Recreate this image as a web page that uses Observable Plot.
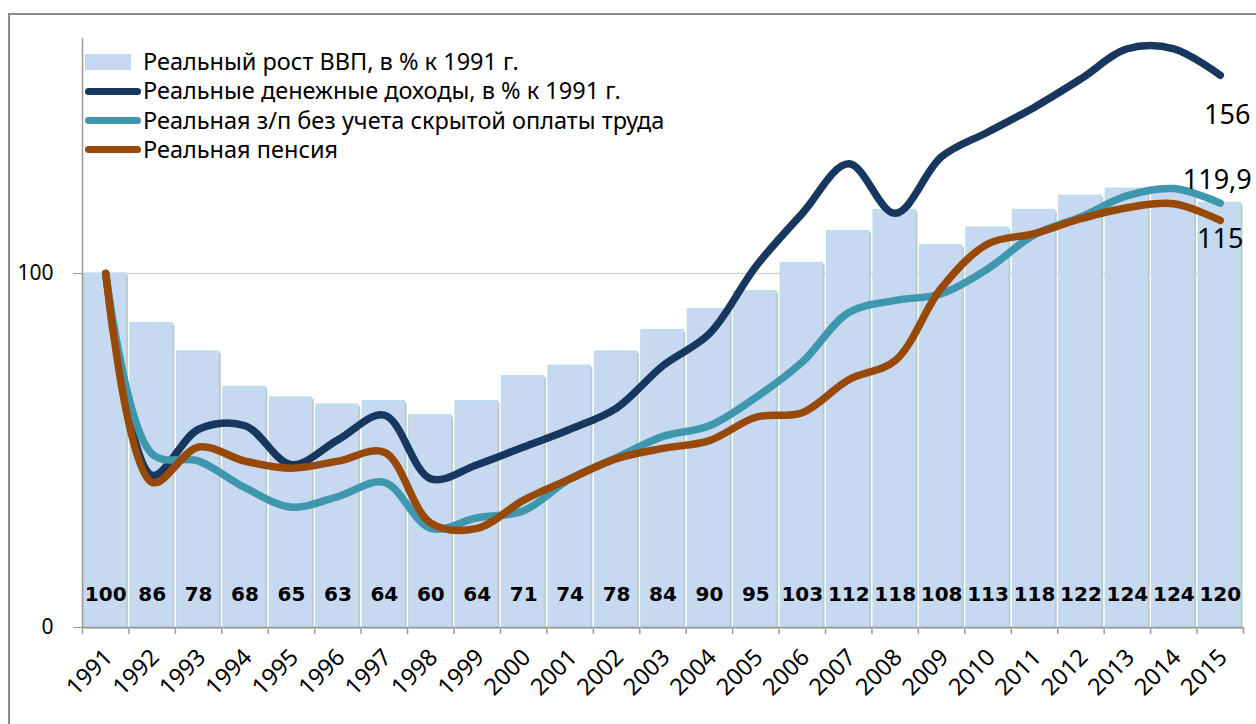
<!DOCTYPE html>
<html>
<head>
<meta charset="utf-8">
<script src="https://cdn.jsdelivr.net/npm/d3@7"></script>
<script src="https://cdn.jsdelivr.net/npm/@observablehq/plot@0.6"></script>
<style>
  body { margin: 0; background: #fff; width: 1256px; height: 724px; overflow: hidden; position: relative; font-family: "Noto Sans", sans-serif; }
  #frame { position: absolute; left: 8px; top: 13px; width: 1400px; height: 900px; border-left: 2px solid #8c8c8c; border-top: 2px solid #8c8c8c; }
  #chart { position: absolute; left: 0; top: 0; }
  #legend { position: absolute; left: 85px; top: 47px; font-size: 23.5px; color: #000; line-height: 1; }
  .row { display: flex; align-items: center; height: 29.4px; white-space: nowrap; }
  .sw-bar { width: 46px; height: 16px; background: #c6d9f0; border: 1px solid #b7dee8; box-sizing: border-box; margin-right: 12px; }
  .sw-line { width: 56px; height: 7px; border-radius: 4px; margin-right: 2px; }
</style>
</head>
<body>
<div id="frame"></div>
<div id="chart"></div>
<div id="legend"></div>
<script>
const years   = [1991,1992,1993,1994,1995,1996,1997,1998,1999,2000,2001,2002,2003,2004,2005,2006,2007,2008,2009,2010,2011,2012,2013,2014,2015];
const gdp     = [100,86,78,68,65,63,64,60,64,71,74,78,84,90,95,103,112,118,108,113,118,122,124,124,120];
const income  = [100,43,56,57,46,53,60,42,46,51,56,62,74,83,102,117,131,117,133,140,147,155,163.5,163.5,156];
const wages   = [100,49,47,39.5,34,37,41,28,31,33,42,48,54,57,65,75,89,92.4,94.3,101.4,111,116,122,124,119.9];
const pension = [100,41,51,47,45,47,49.5,29.5,28,36,42,47.7,50.6,52.8,59.4,60.7,70,75.4,96,108.4,111.3,115.5,118.6,119.7,115];
const seriesNames = ["Реальный рост ВВП, в % к 1991 г.", "Реальные денежные доходы, в % к 1991 г.", "Реальная з/п без учета скрытой оплаты труда", "Реальная пенсия"];
const seriesColors = ["#c6d9f0", "#17375e", "#3f97ae", "#984807"];
const endLabels = ["156", "119,9", "115"];

const bars = years.map((y, i) => ({year: y, gdp: gdp[i]}));
const lines = [];
[income, wages, pension].forEach((arr, s) => {
  years.forEach((y, i) => lines.push({series: seriesNames[s + 1], year: y, value: arr[i]}));
});
const lastIdx = years.length - 1;
const ends = [income, wages, pension].map((arr, s) => ({year: years[lastIdx], value: arr[lastIdx], label: endLabels[s]}));
const bounds = [years[0] - 0.5, ...years.map(y => y + 0.5)];

const lineMark = (name, color) => Plot.line(lines.filter(d => d.series === name), {
  x: "year", y: "value", stroke: color, strokeWidth: 7.5, curve: "catmull-rom",
  strokeLinecap: "round", strokeLinejoin: "round"
});

const chart = Plot.plot({
  width: 1256, height: 724,
  marginLeft: 82, marginRight: 13, marginTop: 38, marginBottom: 97,
  x: {domain: [years[0] - 0.5, years[lastIdx] + 0.5], axis: null},
  y: {domain: [0, 166.4], axis: null},
  style: {fontFamily: "Noto Sans", color: "#000", background: "transparent", overflow: "visible"},
  marks: [
    Plot.ruleY([100], {stroke: "#d4d4d4", strokeWidth: 1.5}),
    Plot.rectY(bars, {x1: d => d.year - 0.5, x2: d => d.year + 0.5, y: "gdp", fill: "#c4c4c4", insetLeft: 3, insetRight: 0.5, dy: 2}),
    Plot.rectY(bars, {x1: d => d.year - 0.5, x2: d => d.year + 0.5, y: "gdp", fill: seriesColors[0], stroke: "#b3dde6", strokeWidth: 1, insetLeft: 1.5, insetRight: 2.5}),
    Plot.text(bars, {x: "year", text: d => String(d.gdp), frameAnchor: "bottom", dy: -27, fontSize: 20, fontWeight: "bold", fontFamily: "DejaVu Sans", fill: "#000"}),
    lineMark(seriesNames[1], seriesColors[1]),
    lineMark(seriesNames[2], seriesColors[2]),
    lineMark(seriesNames[3], seriesColors[3]),
    Plot.text([ends[0]], {x: "year", y: "value", text: "label", dx: 7, dy: 40, fontSize: 27, fill: "#000"}),
    Plot.text([ends[1]], {x: "year", y: "value", text: "label", dx: -3, dy: -23, fontSize: 27, fill: "#000"}),
    Plot.text([ends[2]], {x: "year", y: "value", text: "label", dx: 0, dy: 19, fontSize: 27, fill: "#000"}),
    Plot.ruleX([years[0] - 0.5], {stroke: "#9a9a9a", strokeWidth: 1.5}),
    Plot.ruleY([0], {stroke: "#9a9a9a", strokeWidth: 1.5}),
    Plot.ruleX(bounds, {x: d => d, y1: 0, y2: -2, stroke: "#9a9a9a", strokeWidth: 1.5}),
    Plot.axisY({ticks: [0, 100], tickSize: 9, tickPadding: 20, fontSize: 21, stroke: "#9a9a9a", tickFormat: d => String(d), label: null}),
    Plot.axisX({ticks: years, tickSize: 0, tickRotate: -45, tickPadding: 26, fontSize: 23.5, tickFormat: d => String(d), dx: 3, label: null})
  ]
});
document.getElementById("chart").appendChild(chart);

const legend = document.getElementById("legend");
seriesNames.forEach((name, i) => {
  const row = document.createElement("div");
  row.className = "row";
  const sw = document.createElement("div");
  if (i === 0) { sw.className = "sw-bar"; }
  else { sw.className = "sw-line"; sw.style.background = seriesColors[i]; }
  row.appendChild(sw);
  const t = document.createElement("span");
  t.textContent = name;
  row.appendChild(t);
  legend.appendChild(row);
});
</script>
</body>
</html>
